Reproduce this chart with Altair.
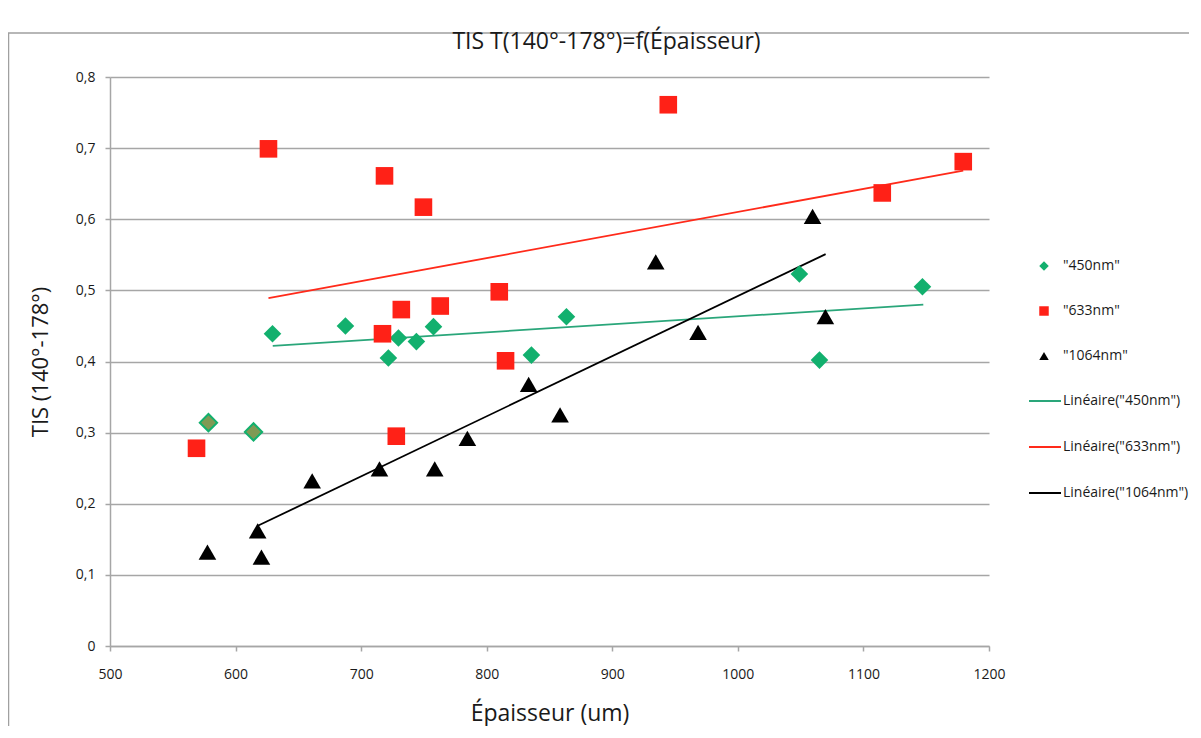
import altair as alt
import pandas as pd

# ---- data ----
series_names = ['"450nm"', '"633nm"', '"1064nm"']

x_450 = [629.4, 687.5, 721.7, 729.7, 744.0, 757.6, 835.6, 863.5, 1049.0, 1065.0, 1147.0]
y_450 = [0.439, 0.450, 0.405, 0.433, 0.428, 0.449, 0.409, 0.463, 0.523, 0.402, 0.505]

# two 450nm points drawn with an olive fill in the original
x_450_extra = [578.4, 614.3]
y_450_extra = [0.314, 0.301]

x_633 = [568.9, 626.2, 717.0, 718.6, 728.0, 732.0, 749.6, 763.0, 810.0, 815.0, 944.6, 1115.0, 1179.5]
y_633 = [0.278, 0.699, 0.439, 0.661, 0.295, 0.473, 0.617, 0.478, 0.498, 0.401, 0.761, 0.637, 0.681]

x_1064 = [577.6, 617.6, 620.6, 661.0, 714.6, 758.6, 784.6, 833.4, 858.4, 934.6, 968.3, 1059.5, 1069.7]
y_1064 = [0.132, 0.162, 0.125, 0.232, 0.249, 0.249, 0.292, 0.368, 0.325, 0.540, 0.441, 0.604, 0.463]

trend_names = ['Linéaire("450nm")', 'Linéaire("633nm")', 'Linéaire("1064nm")']
trend_x0 = [629.6, 626.2, 617.7]
trend_y0 = [0.422, 0.489, 0.169]
trend_x1 = [1147.7, 1179.5, 1069.9]
trend_y1 = [0.480, 0.6685, 0.551]

x_ticks = [500, 600, 700, 800, 900, 1000, 1100, 1200]
y_ticks = [0, 0.1, 0.2, 0.3, 0.4, 0.5, 0.6, 0.7, 0.8]

# ---- tables ----
pts = pd.concat([
    pd.DataFrame({"x": x_450, "y": y_450, "series": series_names[0]}),
    pd.DataFrame({"x": x_633, "y": y_633, "series": series_names[1]}),
    pd.DataFrame({"x": x_1064, "y": y_1064, "series": series_names[2]}),
], ignore_index=True)
extra = pd.DataFrame({"x": x_450_extra, "y": y_450_extra})

trend_rows = []
for n, a, b, c, d in zip(trend_names, trend_x0, trend_y0, trend_x1, trend_y1):
    trend_rows.append({"x": a, "y": b, "trend": n})
    trend_rows.append({"x": c, "y": d, "trend": n})
trend = pd.DataFrame(trend_rows)

GREEN = "#12b06e"
RED = "#ff2117"
BLACK = "#000000"
GRID = "#a6a6a6"
FONT = "Open Sans"
TXT = "#1a1a1a"

xscale = alt.Scale(domain=[500, 1200], nice=False, zero=False)
yscale = alt.Scale(domain=[0, 0.8], nice=False)

xaxis = alt.Axis(values=x_ticks, grid=False, title="Épaisseur (um)", titleFontSize=23,
                 titleFont=FONT, titleFontWeight="normal", titleColor=TXT,
                 titleY=67, titleBaseline="middle",
                 labelFont=FONT, labelFontSize=14, labelColor=TXT, labelPadding=16,
                 labelFlush=False, labelExpr="format(datum.value, 'd')",
                 domainColor=GRID, domainWidth=1.5, tickColor=GRID, tickWidth=1.5, tickSize=5)
yaxis = alt.Axis(values=y_ticks, grid=True, gridColor=GRID, gridWidth=1.5,
                 title="TIS (140°-178°)", titleFontSize=22, titleFont=FONT,
                 titleFontWeight="normal", titleColor=TXT, titleX=-70, titleBaseline="middle",
                 labelFont=FONT, labelFontSize=14, labelColor=TXT, labelPadding=10,
                 labelFlush=False,
                 labelExpr="replace(format(datum.value, '.1~f'), '.', ',')",
                 domainColor=GRID, domainWidth=1.5, tickColor=GRID, tickWidth=1.5, tickSize=5)

pt_legend = alt.Legend(title=None, orient="none", legendX=927, legendY=182, padding=0,
                       labelFont=FONT, labelFontSize=14, labelColor=TXT, labelOffset=12,
                       symbolSize=90, rowPadding=31, symbolStrokeWidth=0)

points = alt.Chart(pts).mark_point(filled=True, size=310, opacity=1, strokeWidth=0).encode(
    x=alt.X("x:Q", scale=xscale, axis=xaxis),
    y=alt.Y("y:Q", scale=yscale, axis=yaxis),
    color=alt.Color("series:N", scale=alt.Scale(domain=series_names, range=[GREEN, RED, BLACK]),
                    legend=pt_legend),
    shape=alt.Shape("series:N", scale=alt.Scale(domain=series_names,
                                                 range=["diamond", "square", "triangle-up"]),
                    legend=pt_legend),
)

extra_pts = alt.Chart(extra).mark_point(shape="diamond", filled=True, size=300, opacity=1,
                                         fill="#7f9a55", stroke=GREEN, strokeWidth=2).encode(
    x=alt.X("x:Q", scale=xscale),
    y=alt.Y("y:Q", scale=yscale),
)

lines = alt.Chart(trend).mark_line(strokeWidth=1.8).encode(
    x=alt.X("x:Q", scale=xscale),
    y=alt.Y("y:Q", scale=yscale),
    stroke=alt.Stroke("trend:N",
                      scale=alt.Scale(domain=trend_names, range=["#2aa67a", "#ff2a1a", BLACK]),
                      legend=alt.Legend(title=None, orient="none", legendX=918, legendY=307,
                                        padding=0, labelFont=FONT, labelFontSize=14,
                                        labelColor=TXT, labelOffset=1, symbolSize=1024,
                                        symbolStrokeWidth=2, rowPadding=22, symbolType="stroke")),
)

border = alt.Chart(pd.DataFrame({"a": [0]})).mark_rect(
    fillOpacity=0, stroke="#a0a0a0", strokeWidth=1.5).encode(
    x=alt.value(-101.5), x2=alt.value(1300), y=alt.value(-44), y2=alt.value(900))

chart = alt.layer(border, lines, extra_pts, points).properties(
    width=879, height=569,
    title=alt.TitleParams("TIS T(140°-178°)=f(Épaisseur)", font=FONT, fontSize=23,
                          fontWeight="normal", color=TXT, anchor="middle", dx=57, dy=26),
    autosize=alt.AutoSizeParams(type="none"),
    padding={"left": 102, "top": 69, "right": 200, "bottom": 80},
    background="white",
).configure_view(stroke=None)

chart.save("out.html", embed_options={"renderer": "svg", "actions": False})
